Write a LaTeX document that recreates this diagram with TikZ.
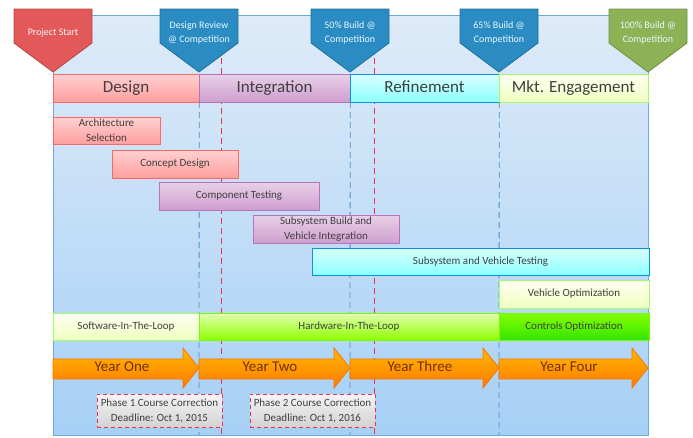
\documentclass[tikz,border=0pt]{standalone}
\usepackage{fontspec}
\setmainfont{Carlito}
\usetikzlibrary{positioning}

\definecolor{panelTop}{HTML}{DEEBF8}
\definecolor{panelBot}{HTML}{A6D0F6}
\definecolor{panelLine}{HTML}{6FA8DC}
\definecolor{mileRed}{HTML}{E35858}
\definecolor{mileBlue}{HTML}{2A8CC2}
\definecolor{mileGreen}{HTML}{8DB255}
\definecolor{dashBlue}{HTML}{4A90C8}
\definecolor{dashRed}{HTML}{F03050}
\definecolor{txtGray}{HTML}{404040}

\begin{document}
\begin{tikzpicture}[x=1pt,y=-1pt,
    milestone/.style={line width=0.8pt, line join=round},
    miletext/.style={text=white!92!cyan, align=center, font=\fontsize{10}{14}\selectfont},
    header/.style={draw, minimum height=28pt, inner sep=0pt, text height=12pt, text depth=3.5pt, text=txtGray, font=\fontsize{17}{17}\selectfont},
    task/.style={draw, line width=0.8pt, inner sep=0pt, text=txtGray, align=center, font=\fontsize{11}{15}\selectfont},
    pinkbox/.style={top color=red!18, bottom color=red!38, draw=red!60},
    purplebox/.style={top color=violet!18, bottom color=violet!38, draw=violet!55},
    cyanbox/.style={top color=cyan!15, bottom color=cyan!45, draw=cyan!80!blue},
    palegreen/.style={top color=green!5!yellow!5, bottom color=lime!25, draw=lime!50!green!60},
    yeararrow/.style={draw=orange!90!red, line width=0.8pt, top color=orange!55!yellow, bottom color=orange!95!red},
    yeartext/.style={text=orange!40!black!90!red, text height=10.5pt, text depth=3pt, font=\fontsize{15}{15}\selectfont},
    deadline/.style={draw=dashRed, dash pattern=on 4pt off 3pt, line width=1pt, top color=gray!8, bottom color=gray!35, minimum width=125pt, minimum height=33pt, inner sep=0pt, align=center, text=txtGray, font=\fontsize{11}{15}\selectfont},
    bluedash/.style={dashBlue, dash pattern=on 6pt off 4pt, line width=0.8pt},
    reddash/.style={dashRed, dash pattern=on 6pt off 4pt, line width=1pt}]
    \useasboundingbox (0,0) rectangle (693,437);

    % background panel
    \draw[panelLine, line width=0.8pt, top color=panelTop, bottom color=panelBot] (53,15) rectangle (648,435);

    % correction deadlines
    \coordinate (dl1) at (221,58);
    \coordinate (dl2) at (374,58);
    \draw[reddash] (dl1) -- (221,435);
    \draw[reddash] (dl2) -- (374,435);

    % milestones
    \draw[milestone, draw=mileRed!80!black, fill=mileRed] (14,9) -- (92,9) -- (92,43) -- (53,72) -- (14,43) -- cycle;
    \draw[milestone, draw=mileBlue!80!black, fill=mileBlue] (160,9) -- (238,9) -- (238,43) -- (199,72) -- (160,43) -- cycle;
    \draw[milestone, draw=mileBlue!80!black, fill=mileBlue] (311,9) -- (389,9) -- (389,43) -- (350,72) -- (311,43) -- cycle;
    \draw[milestone, draw=mileBlue!80!black, fill=mileBlue] (460,9) -- (538,9) -- (538,43) -- (499,72) -- (460,43) -- cycle;
    \draw[milestone, draw=mileGreen!80!black, fill=mileGreen] (609,9) -- (687,9) -- (687,43) -- (648,72) -- (609,43) -- cycle;
    \node[miletext] (start) at (53,33) {Project Start};
    \node[miletext] (review) at (199,33) {Design Review\\@ Competition};
    \node[miletext] (build50) at (350,33) {50\% Build @\\Competition};
    \node[miletext] (build65) at (499,33) {65\% Build @\\Competition};
    \node[miletext] (build100) at (648,33) {100\% Build @\\Competition};

    % phases
    \node[header, pinkbox, minimum width=146pt] (design) at (126,88) {Design};
    \node[header, purplebox, minimum width=151pt] (integ) at (274.5,88) {Integration};
    \node[header, cyanbox, minimum width=149pt] (refine) at (424.5,88) {Refinement};
    \node[header, palegreen, minimum width=149pt] (market) at (573.5,88) {Mkt. Engagement};
    \draw[bluedash] (design.south east) -- (199,435);
    \draw[bluedash] (integ.south east) -- (350,435);
    \draw[bluedash] (refine.south east) -- (499,435);

    % tasks
    \node[task, pinkbox, minimum width=107pt, minimum height=27pt] (arch) at (106.5,130.5) {Architecture\\Selection};
    \node[task, pinkbox, minimum width=126pt, minimum height=28pt] (concept) at (175,164) {Concept Design};
    \node[task, purplebox, minimum width=160pt, minimum height=28pt] (comp) at (239,196) {Component Testing};
    \node[task, purplebox, minimum width=146pt, minimum height=28pt] (subbuild) at (326,229) {Subsystem Build and\\Vehicle Integration};
    \node[task, cyanbox, minimum width=337pt, minimum height=27pt] (subtest) at (480.5,261.5) {Subsystem and Vehicle Testing};
    \node[task, palegreen, minimum width=150pt, minimum height=28pt] (vehopt) at (574,294) {Vehicle Optimization};
    \node[task, palegreen, minimum width=146pt, minimum height=27pt] (sil) at (126,326.5) {Software-In-The-Loop};
    \node[task, top color=green!15!lime!30, bottom color=lime!75!green, draw=lime!60!green, minimum width=300pt, minimum height=27pt] (hil) at (349,326.5) {Hardware-In-The-Loop};
    \node[task, top color=lime!70!green, bottom color=green!70!lime!90!black, draw=lime!60!green, minimum width=150pt, minimum height=27pt] (ctrl) at (574,326.5) {Controls Optimization};

    % years
    \draw[yeararrow] (53,359) -- (183,359) -- (183,348) -- (199,368) -- (183,388) -- (183,379) -- (53,379) -- cycle;
    \draw[yeararrow] (199,359) -- (334,359) -- (334,348) -- (350,368) -- (334,388) -- (334,379) -- (199,379) -- cycle;
    \draw[yeararrow] (350,359) -- (483,359) -- (483,348) -- (499,368) -- (483,388) -- (483,379) -- (350,379) -- cycle;
    \draw[yeararrow] (499,359) -- (632,359) -- (632,348) -- (648,368) -- (632,388) -- (632,379) -- (499,379) -- cycle;
    \node[yeartext] (year1) at (122,368) {Year One};
    \node[yeartext] (year2) at (270,368) {Year Two};
    \node[yeartext] (year3) at (420,368) {Year Three};
    \node[yeartext] (year4) at (569,368) {Year Four};

    % course corrections
    \node[deadline] (phase1) at (159.5,410.5) {Phase 1 Course Correction\\Deadline: Oct 1, 2015};
    \node[deadline] (phase2) at (312.5,410.5) {Phase 2 Course Correction\\Deadline: Oct 1, 2016};
\end{tikzpicture}
\end{document}
